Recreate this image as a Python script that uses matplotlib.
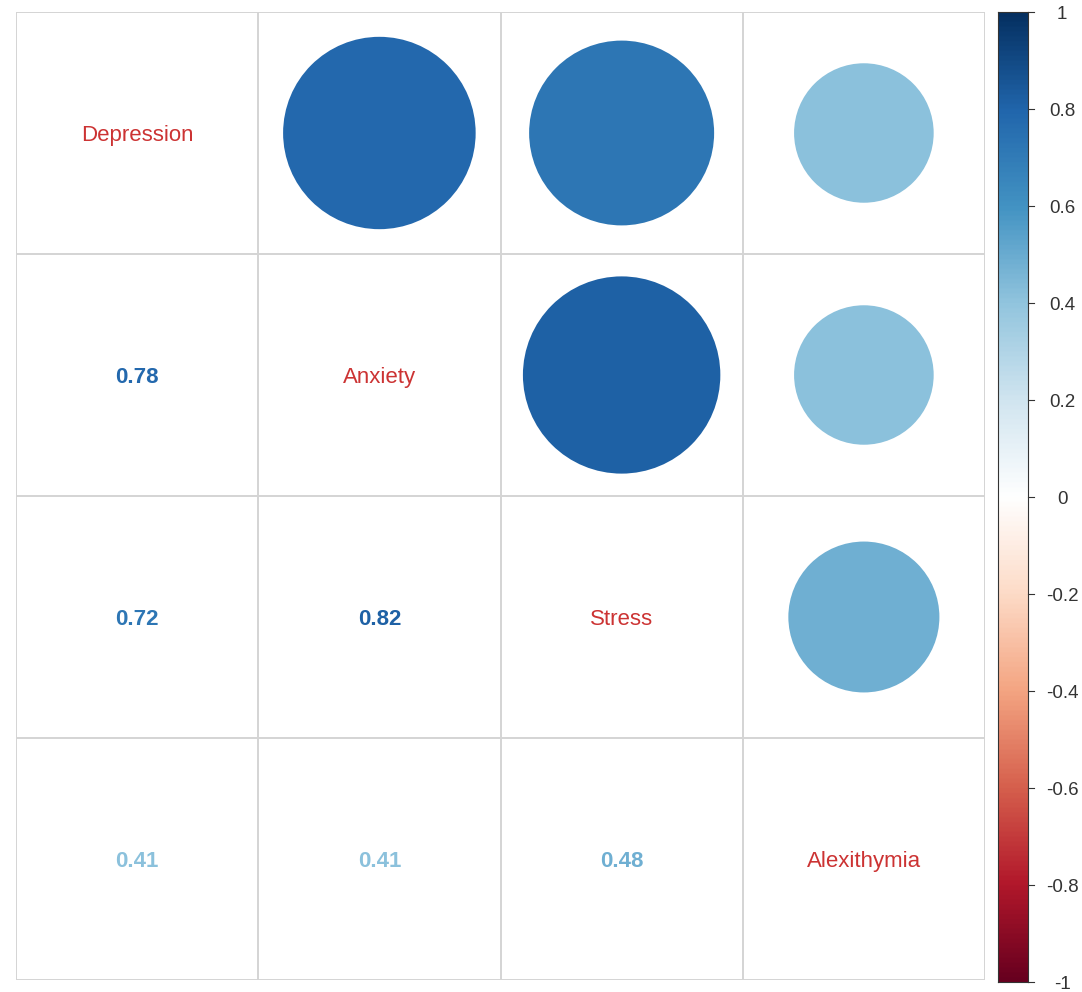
import numpy as np
import matplotlib
matplotlib.use("Agg")
import matplotlib.pyplot as plt
from matplotlib.colors import LinearSegmentedColormap
from matplotlib.patches import Circle

plt.rcParams["font.family"] = ["Liberation Sans", "DejaVu Sans"]

variables = ["Depression", "Anxiety", "Stress", "Alexithymia"]
corr = np.array([
    [1.00, 0.78, 0.72, 0.41],
    [0.78, 1.00, 0.82, 0.41],
    [0.72, 0.82, 1.00, 0.48],
    [0.41, 0.41, 0.48, 1.00],
])
legend_ticks = [-1, -0.8, -0.6, -0.4, -0.2, 0, 0.2, 0.4, 0.6, 0.8, 1]

rdbu_colors = ["#67001F", "#B2182B", "#D6604D", "#F4A582", "#FDDBC7", "#FFFFFF",
               "#D1E5F0", "#92C5DE", "#4393C3", "#2166AC", "#053061"]
cmap = LinearSegmentedColormap.from_list("corr_rdbu", rdbu_colors, N=200)


def color_of(v):
    return cmap((v + 1) / 2)


W, H = 1082, 992
fig = plt.figure(figsize=(W / 100, H / 100), dpi=100)

# main matrix panel
left, right, top, bottom = 16, 985, 12, 980
ax = fig.add_axes([left / W, 1 - bottom / H, (right - left) / W, (bottom - top) / H])
n = len(variables)
ax.set_xlim(0.5, n + 0.5)
ax.set_ylim(n + 0.5, 0.5)
ax.axis("off")

grid_col = "#D4D4D4"
for k in range(n + 1):
    ax.plot([0.5 + k, 0.5 + k], [0.5, n + 0.5], color=grid_col, lw=1.4,
            solid_capstyle="butt", zorder=1)
    ax.plot([0.5, n + 0.5], [0.5 + k, 0.5 + k], color=grid_col, lw=1.4,
            solid_capstyle="butt", zorder=1)

dy = 0.012
for i in range(n):
    for j in range(n):
        x, y = j + 1, i + 1
        v = corr[i, j]
        if i == j:
            ax.text(x, y + dy, variables[i], ha="center", va="center",
                    fontsize=16, color="#CC3333", zorder=3)
        elif j > i:
            r = 0.45 * np.sqrt(abs(v))
            ax.add_patch(Circle((x, y), r, facecolor=color_of(v),
                                edgecolor="none", zorder=2))
        else:
            ax.text(x, y + dy, f"{v:.2f}", ha="center", va="center",
                    fontsize=16, fontweight="bold", color=color_of(v), zorder=3)

# colour legend
cb_l, cb_r, cb_t, cb_b = 998, 1028, 12, 982
cax = fig.add_axes([cb_l / W, 1 - cb_b / H, (cb_r - cb_l) / W, (cb_b - cb_t) / H])
grad = np.linspace(-1, 1, 400).reshape(-1, 1)
cax.imshow(grad, aspect="auto", cmap=cmap, vmin=-1, vmax=1, origin="lower",
           extent=[0, 1, -1, 1])
cax.set_xlim(0, 1)
cax.set_ylim(-1, 1)
cax.set_xticks([])
cax.set_yticks([])
for s in cax.spines.values():
    s.set_color("#333333")
    s.set_linewidth(0.8)

tax = fig.add_axes([cb_r / W, 1 - cb_b / H, (W - cb_r) / W, (cb_b - cb_t) / H])
tax.set_xlim(cb_r, W)
tax.set_ylim(-1, 1)
tax.axis("off")
for t in legend_ticks:
    tax.plot([cb_r, cb_r + 6], [t, t], color="#333333", lw=0.8, clip_on=False)
    label = f"{t:g}"
    tax.text(1062, t - 0.006, label, ha="center", va="center", fontsize=13.5,
             color="#333333", clip_on=False)

fig.savefig("out.png", dpi=100, facecolor="white")
